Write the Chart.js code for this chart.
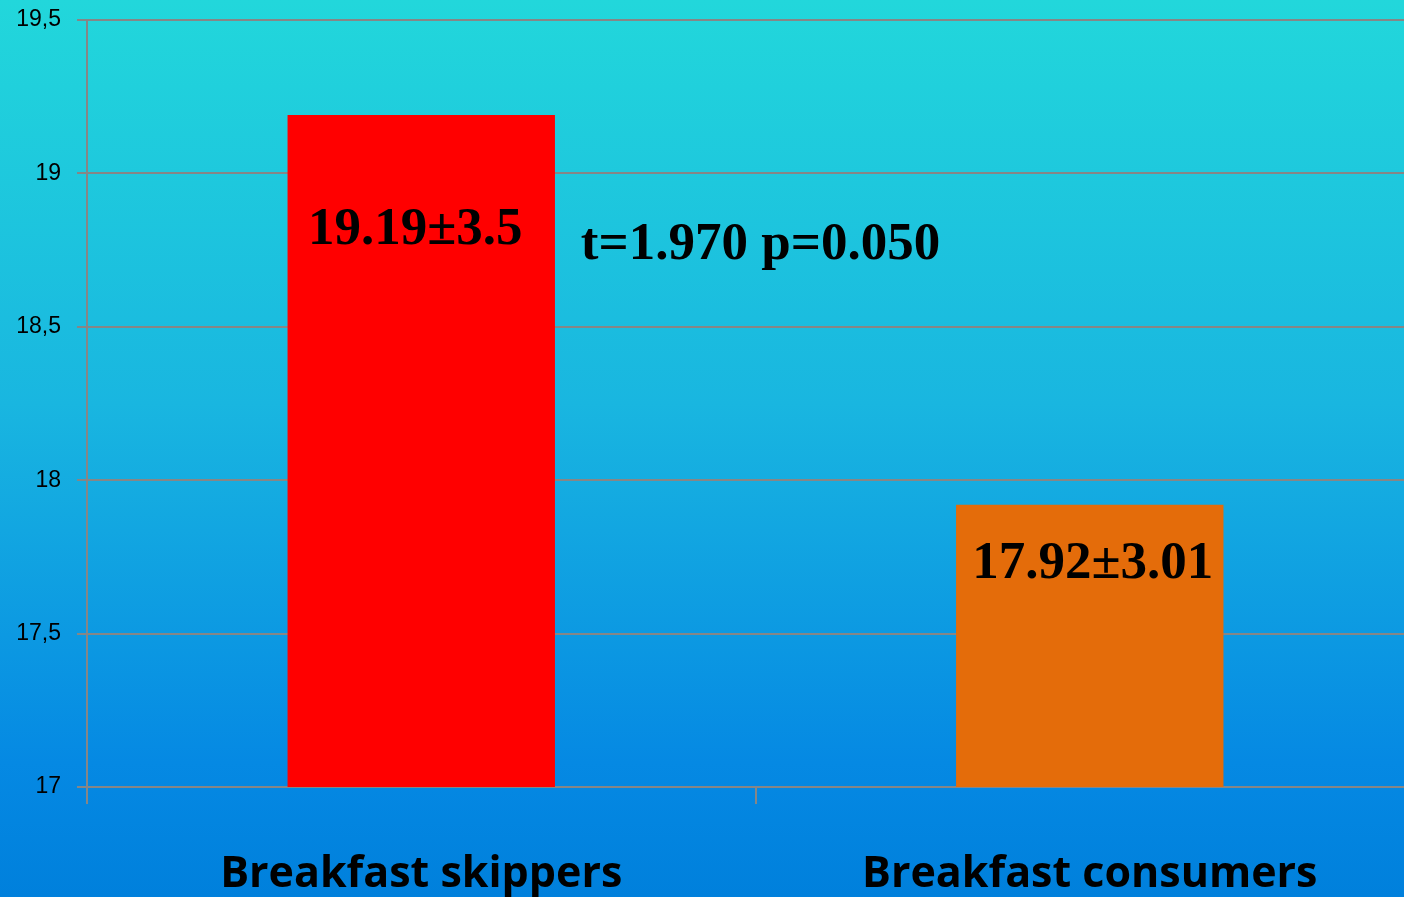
<!DOCTYPE html>
<html>
<head>
<meta charset="utf-8">
<script src="https://cdn.jsdelivr.net/npm/chart.js@4"></script>
<style>
  html, body { margin: 0; padding: 0; overflow: hidden; background: #0a90e0; }
  canvas { display: block; }
</style>
</head>
<body>
<canvas id="chartBreakfast" width="1424" height="897"></canvas>
<script>
var categories = ['Breakfast skippers', 'Breakfast consumers'];
var means = [19.19, 17.92];
var sds = ['3.5', '3.01'];
var barColors = ['#ff0000', '#e46c0a'];
var labelLevels = [18.815, 17.727];   // where the value text sits (y units)
var statText = 't=1.970 p=0.050';
var statLevel = 18.767;
var yMin = 17, yMax = 19.5, yStep = 0.5;

var labelNudge = [-6, 3];

// background gradient + text on the bars
var decor = {
    id: 'decor',
    beforeDraw: function(chart) {
        var c = chart.ctx;
        var g = c.createLinearGradient(0, 0, 0, chart.height);
        g.addColorStop(0, '#22d7db');
        g.addColorStop(0.45, '#19b6e0');
        g.addColorStop(0.85, '#0589e3');
        g.addColorStop(1, '#0080dc');
        c.save();
        c.fillStyle = g;
        c.fillRect(0, 0, chart.width, chart.height);
        c.restore();
    },
    afterDatasetsDraw: function(chart) {
        var c = chart.ctx;
        var x = chart.scales.x, y = chart.scales.y;
        c.save();
        c.font = 'bold 53px "Liberation Serif", "Times New Roman", serif';
        c.fillStyle = '#000';
        c.textAlign = 'center';
        c.textBaseline = 'middle';
        for (var i = 0; i < means.length; i++) {
            c.fillText(means[i].toFixed(2) + '\u00b1' + sds[i], x.getPixelForValue(i) + labelNudge[i], y.getPixelForValue(labelLevels[i]));
        }
        c.fillText(statText, x.getPixelForValue(0.5) + 5, y.getPixelForValue(statLevel));
        c.restore();
    }
};

var ctx = document.getElementById('chartBreakfast');
var myChart = new Chart(ctx, {
    type: 'bar',
    data: {
        labels: categories,
        datasets: [{
            data: means,
            backgroundColor: barColors,
            borderWidth: 0,
            categoryPercentage: 1,
            barPercentage: 0.4
        }]
    },
    options: {
        responsive: false,
        animation: false,
        layout: { padding: { top: 20, left: 0, right: 0, bottom: 0 } },
        plugins: { legend: { display: false }, tooltip: { enabled: false } },
        scales: {
            x: {
                grid: { display: true, drawOnChartArea: false, color: '#868686', lineWidth: 2, tickLength: 17, offset: true },
                border: { display: true, color: '#868686', width: 2 },
                ticks: {
                    color: '#000',
                    padding: 45,
                    font: { family: '"Open Sans", Lato, sans-serif', size: 43, weight: 'bold' }
                },
                afterFit: function(s) { s.height = 110; }
            },
            y: {
                min: yMin,
                max: yMax,
                grid: { color: '#868686', lineWidth: 2, tickLength: 10 },
                border: { display: true, color: '#868686', width: 2 },
                ticks: {
                    stepSize: yStep,
                    color: '#000',
                    padding: 16,
                    font: { family: '"Liberation Sans", Arial, sans-serif', size: 23 },
                    callback: function(v) { return String(v).replace('.', ','); }
                },
                afterFit: function(s) { s.width = 87; s.paddingTop = 0; s.paddingBottom = 0; }
            }
        }
    },
    plugins: [decor]
});
</script>
</body>
</html>
